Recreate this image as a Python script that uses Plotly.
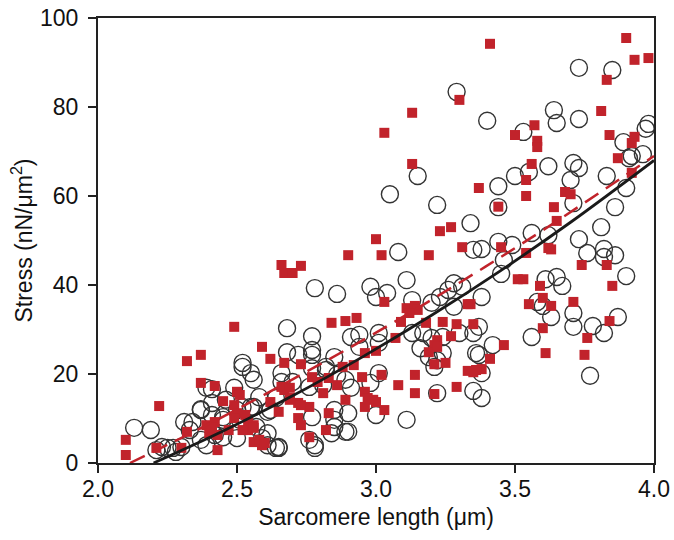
import plotly.graph_objects as go

# open circles (sarcomere length um, stress nN/um^2)
circ_x = [3.29, 3.15, 3.05, 3.22, 3.40, 3.73, 3.85, 3.64, 3.65, 3.73, 3.53, 3.98, 3.97, 3.89, 3.92,
          3.96, 3.91, 3.62, 3.55, 3.50, 3.44, 3.71, 3.73, 3.70, 3.83, 3.90, 3.71, 3.44, 3.86, 3.81,
          3.34, 3.56, 3.62, 3.73, 3.76, 3.82, 3.86, 3.82, 3.90, 3.49, 3.44, 3.38, 3.35, 3.46, 3.45,
          3.61, 3.65, 3.67, 3.58, 3.60, 3.63, 3.71, 3.71, 3.78, 3.82, 3.87, 3.77, 3.56, 3.42, 3.37,
          3.38, 3.37, 3.35, 3.38, 3.35, 3.38, 3.08, 2.78, 2.86, 3.11, 2.98, 3.00, 3.04, 3.28, 3.31,
          3.26, 3.23, 3.13, 3.20, 3.28, 2.68, 2.77, 2.94, 3.01, 3.13, 3.17, 3.20, 3.24, 3.30, 2.94,
          3.01, 3.16, 3.19, 3.21, 3.22, 3.24, 3.36, 3.22, 3.11, 2.91, 2.72, 2.77, 2.85, 2.65, 2.78,
          2.85, 2.90, 2.90, 2.85, 2.91, 3.00, 2.76, 2.70, 2.81, 2.86, 2.82, 2.77, 2.68, 2.98, 3.01,
          2.52, 2.41, 2.56, 2.49, 2.46, 2.62, 2.66, 2.37, 2.41, 2.31, 2.33, 2.45, 2.51, 2.57, 2.59,
          2.64, 2.50, 2.30, 2.28, 2.21, 2.25, 2.13, 2.19, 2.39, 2.50, 2.55, 2.58, 2.64, 2.61, 2.42,
          2.45, 2.37, 2.37, 2.41, 2.34, 2.23, 2.27, 2.39, 2.45, 2.55, 2.52, 2.61, 2.78, 2.84, 2.85,
          2.89, 2.77, 2.61, 2.56, 2.52, 2.66, 2.82, 2.89, 2.76, 2.77, 2.65]
circ_y = [83.4, 64.5, 60.4, 58.0, 76.9, 88.8, 88.3, 79.3, 76.4, 77.3, 74.4, 76.2, 75.1, 72.1, 69.0,
          69.4, 68.5, 66.7, 65.4, 64.5, 62.2, 67.4, 66.3, 63.6, 64.5, 61.8, 58.4, 57.5, 57.5, 53.0,
          53.9, 51.7, 51.2, 50.3, 47.2, 48.1, 46.7, 46.3, 42.0, 49.0, 49.7, 48.1, 47.9, 45.6, 42.5,
          41.3, 41.8, 39.8, 36.2, 35.3, 32.8, 33.7, 30.6, 30.8, 29.2, 32.8, 19.6, 28.3, 26.5, 24.3,
          20.2, 30.6, 29.2, 37.3, 16.2, 14.6, 47.4, 39.3, 38.0, 41.1, 39.6, 37.3, 38.2, 40.4, 39.6,
          38.9, 37.3, 36.6, 36.0, 35.1, 30.3, 28.5, 28.8, 29.2, 29.2, 29.2, 28.1, 28.3, 29.2, 26.1,
          27.0, 25.8, 23.8, 21.6, 23.1, 24.7, 24.7, 15.7, 9.7, 28.3, 24.3, 24.3, 23.8, 3.6, 4.0,
          8.1, 7.0, 11.2, 11.9, 16.9, 10.8, 17.1, 18.2, 17.5, 19.8, 21.6, 21.3, 24.9, 18.0, 20.2,
          22.5, 16.6, 18.7, 16.9, 14.2, 11.9, 18.2, 11.9, 10.8, 9.2, 7.4, 9.7, 9.7, 8.1, 5.6,
          3.4, 5.6, 3.6, 2.5, 2.9, 3.4, 7.9, 7.4, 16.9, 11.9, 12.6, 14.8, 14.6, 6.7, 6.3,
          5.8, 5.2, 12.1, 13.5, 9.2, 3.6, 3.4, 4.0, 10.3, 20.2, 21.6, 4.0, 3.4, 6.7, 9.7,
          7.0, 10.3, 11.5, 12.6, 12.6, 20.2, 20.9, 18.7, 5.2, 25.4, 3.4]

# filled red squares
sq_x = [3.30, 3.13, 3.03, 3.13, 3.37, 3.41, 3.90, 3.93, 3.98, 3.83, 3.81, 3.57, 3.50, 3.58, 3.58,
        3.84, 3.93, 3.92, 3.87, 3.56, 3.54, 3.54, 3.92, 3.68, 3.70, 3.44, 3.64, 3.65, 3.45, 3.54,
        3.62, 3.63, 3.74, 3.83, 3.51, 3.53, 3.59, 3.85, 3.60, 3.55, 3.63, 3.71, 3.84, 3.76, 3.75,
        3.60, 3.61, 3.46, 3.41, 3.38, 3.35, 3.35, 3.34, 3.23, 3.27, 3.00, 2.90, 3.02, 3.19, 3.31,
        2.66, 2.67, 2.70, 2.73, 3.03, 3.11, 3.14, 3.15, 3.12, 3.33, 3.09, 3.18, 3.24, 3.29, 2.84,
        2.89, 2.93, 3.07, 3.27, 3.22, 3.21, 3.19, 3.22, 3.00, 2.96, 3.21, 3.25, 3.33, 3.36, 3.14,
        3.02, 3.08, 3.14, 3.21, 3.29, 2.67, 2.73, 2.88, 2.92, 2.95, 2.77, 2.79, 2.83, 2.86, 2.89,
        2.96, 2.99, 2.96, 3.03, 2.67, 2.69, 2.72, 2.76, 2.72, 2.73, 2.76, 2.82, 2.83, 2.65, 2.49,
        2.59, 2.62, 2.32, 2.37, 2.37, 2.42, 2.50, 2.45, 2.49, 2.62, 2.32, 2.39, 2.42, 2.40, 2.47,
        2.53, 2.54, 2.56, 2.59, 2.43, 2.30, 2.21, 2.10, 2.10, 2.22, 2.50, 2.56, 2.49, 2.41, 2.43,
        2.51, 2.66, 2.69, 2.69, 2.73, 2.81, 2.54, 2.56, 2.58, 2.60, 2.52, 2.97, 3.00]
sq_y = [81.6, 78.7, 74.2, 67.2, 61.8, 94.2, 95.5, 90.6, 91.0, 86.1, 79.1, 75.9, 73.7, 72.4, 71.0,
        73.7, 73.3, 71.9, 68.5, 67.2, 63.6, 60.0, 65.2, 60.9, 60.4, 57.6, 57.5, 54.4, 48.5, 47.2,
        48.3, 48.0, 44.5, 44.5, 41.3, 41.3, 39.8, 39.8, 37.1, 35.7, 35.3, 36.2, 31.9, 28.1, 24.3,
        30.3, 24.7, 26.5, 23.4, 21.1, 20.4, 31.2, 35.7, 52.1, 53.0, 50.3, 46.7, 46.7, 46.7, 48.5,
        44.5, 42.7, 42.7, 44.3, 36.2, 34.8, 35.3, 34.4, 33.7, 35.7, 31.7, 31.5, 31.7, 31.2, 31.5,
        31.9, 32.6, 28.1, 28.5, 27.6, 26.5, 24.9, 26.1, 25.2, 24.7, 22.2, 22.5, 20.7, 20.9, 19.8,
        19.8, 17.5, 15.7, 15.5, 17.1, 22.5, 22.2, 21.6, 22.0, 19.3, 19.3, 18.2, 19.1, 17.5, 14.2,
        16.0, 14.2, 12.6, 11.9, 16.4, 14.2, 13.5, 12.6, 10.1, 8.5, 5.8, 7.4, 11.2, 11.5, 30.6,
        26.1, 23.4, 22.9, 24.3, 18.0, 17.3, 16.0, 13.9, 13.0, 13.7, 7.0, 8.5, 9.2, 6.7, 7.4,
        10.8, 7.4, 4.7, 4.0, 2.9, 3.4, 3.4, 5.2, 1.8, 12.8, 11.2, 8.5, 10.1, 7.9, 6.3,
        15.3, 17.1, 16.9, 14.6, 13.0, 15.7, 9.2, 7.9, 5.2, 4.5, 7.4, 14.6, 13.7]

# fitted curves
fit_solid_x = [2.2, 2.45, 2.7, 2.95, 3.2, 3.45, 3.7, 4.0]
fit_solid_y = [0.0, 7.2, 15.1, 23.8, 33.2, 43.3, 54.1, 68.0]
fit_dash_x = [2.115, 2.4, 2.7, 3.0, 3.3, 3.6, 4.0]
fit_dash_y = [0.0, 8.8, 18.8, 29.3, 40.5, 52.3, 69.0]

font = "Liberation Sans, Arial, sans-serif"

fig = go.Figure()
fig.add_trace(go.Scatter(x=circ_x, y=circ_y, mode="markers",
                         marker=dict(symbol="circle-open", size=17,
                                     color="#333333", line=dict(width=1.4))))
fig.add_trace(go.Scatter(x=sq_x, y=sq_y, mode="markers",
                         marker=dict(symbol="square", size=10, color="#c1232b",
                                     line=dict(width=0))))
fig.add_trace(go.Scatter(x=fit_dash_x, y=fit_dash_y, mode="lines", line_shape="spline",
                         line=dict(color="#c1232b", width=2.5, dash="16px,9px")))
fig.add_trace(go.Scatter(x=fit_solid_x, y=fit_solid_y, mode="lines", line_shape="spline",
                         line=dict(color="#1a1a1a", width=2.8)))

axis_common = dict(showline=True, linecolor="#222222", linewidth=2, mirror=True,
                   ticks="outside", ticklen=8, tickwidth=1.5, tickcolor="#222222",
                   showgrid=False, zeroline=False, automargin=False,
                   tickfont=dict(family=font, size=23, color="#111111"))

fig.update_layout(
    width=674, height=540,
    margin=dict(l=98, r=20, t=18, b=77),
    paper_bgcolor="white", plot_bgcolor="white",
    showlegend=False,
    font=dict(family=font, color="#111111"),
    xaxis=dict(range=[2.0, 4.0], tickvals=[2.0, 2.5, 3.0, 3.5, 4.0], tickformat=".1f",
               ticklabelstandoff=-4,
               title=dict(text="Sarcomere length (\u03bcm)", font=dict(family=font, size=23),
                          standoff=8),
               **axis_common),
    yaxis=dict(range=[0, 100], tickvals=[0, 20, 40, 60, 80, 100],
               ticklabelstandoff=5,
               title=dict(text="Stress (nN/\u03bcm<sup>2</sup>)", font=dict(family=font, size=23),
                          standoff=1),
               **axis_common),
)

# drop the default body margin so the figure fills the window exactly
fig.write_html("out.html", config={"displayModeBar": False},
               post_script="document.body.style.margin='0';")
